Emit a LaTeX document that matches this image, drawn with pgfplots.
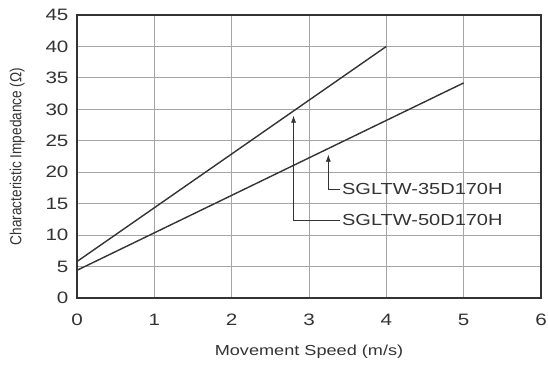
\documentclass[border=0pt]{standalone}
\usepackage{pgfplots}
\pgfplotsset{compat=1.18}
\usetikzlibrary{arrows.meta}
\usepackage{fontspec}
\setmainfont{Liberation Sans}[FakeStretch=1.25]
\newfontfamily\ylfont{Liberation Sans}[FakeStretch=0.85]
\definecolor{txt}{HTML}{333333}
\begin{document}
\begin{tikzpicture}
\begin{axis}[
  scale only axis,
  width=464pt, height=283pt,
  xmin=0, xmax=6, ymin=0, ymax=45,
  xtick={0,...,6}, ytick={0,5,...,45},
  grid=major,
  major grid style={gray!70, line width=0.8pt},
  axis line style={line width=1.8pt, txt},
  tick style={draw=none},
  /pgf/number format/assume math mode=true,
  tick label style={font=\fontsize{16.5}{18}\selectfont, text=txt},
  xticklabel style={anchor=center, yshift=-22pt},
  yticklabel style={anchor=east, xshift=-5pt},
  every axis x label/.style={at={(axis description cs:0.5,-0.19)}, anchor=center,
    font=\fontsize{14.5}{16}\selectfont, text=txt},
  every axis y label/.style={at={(axis description cs:-0.129,0.5)}, anchor=center,
    rotate=90, font=\ylfont\fontsize{16}{18}\selectfont, text=txt},
  xlabel={Movement Speed (m/s)},
  ylabel={Characteristic Impedance (Ω)},
  clip=false,
]
% SGLTW-50D170H
\addplot[txt, line width=1.4pt] coordinates {(0,5.8) (4,40)};
% SGLTW-35D170H
\addplot[txt, line width=1.4pt] coordinates {(0,4.4) (5,34.2)};

\draw[txt, line width=0.7pt, -{Latex[length=7pt,width=5pt]}] (axis cs:3.4,17.3) -| (axis cs:3.25,22.8);
\draw[txt, line width=0.7pt, -{Latex[length=7pt,width=5pt]}] (axis cs:3.4,12.4) -| (axis cs:2.8,29.0);
\node[anchor=west, inner sep=1pt, xshift=1pt, font=\fontsize{16}{18}\selectfont, text=txt] at (axis cs:3.4,17.3) {SGLTW-35D170H};
\node[anchor=west, inner sep=1pt, xshift=1pt, font=\fontsize{16}{18}\selectfont, text=txt] at (axis cs:3.4,12.4) {SGLTW-50D170H};
\coordinate (bl) at (rel axis cs:0,0);
\coordinate (tr) at (rel axis cs:1,1);
\end{axis}
\pgfresetboundingbox
\path ([xshift=-77pt,yshift=-69pt]bl) rectangle ([xshift=7pt,yshift=15pt]tr);
\end{tikzpicture}
\end{document}
